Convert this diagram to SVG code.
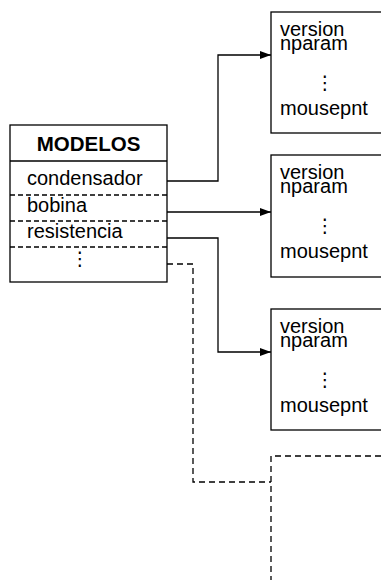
<svg xmlns="http://www.w3.org/2000/svg" width="381" height="584" viewBox="0 0 381 584">
<style>
text{font-family:"Liberation Sans",Arial,sans-serif;font-size:20px;fill:#000}
.b{font-weight:bold;font-size:20.5px}
.el{font-family:"DejaVu Sans",sans-serif;font-size:19px;text-anchor:middle}
.box{fill:#fff;stroke:#000;stroke-width:1.3}
.sep{stroke:#000;stroke-width:1.3;stroke-dasharray:5,3;fill:none}
.c{fill:none;stroke:#000;stroke-width:1.3}
.d{fill:none;stroke:#000;stroke-width:1.3;stroke-dasharray:6,4}
</style>
<defs>
<marker id="ah" markerWidth="11" markerHeight="8" refX="11" refY="4" orient="auto" markerUnits="userSpaceOnUse">
<path d="M0,0 L11,4 L0,8 Z" fill="#000"/>
</marker>
</defs>
<g id="connectors">
<path class="c" d="M167,181 H218 V55 H271" marker-end="url(#ah)"/>
<path class="c" d="M167,212 H271" marker-end="url(#ah)"/>
<path class="c" d="M167,238 H218 V352 H271" marker-end="url(#ah)"/>
<path class="d" d="M167,264 H193 V482 H271"/>
</g>
<g id="modelos">
<rect class="box" x="10" y="125" width="157" height="157"/>
<line class="c" x1="10" y1="161" x2="167" y2="161"/>
<line class="sep" x1="10" y1="195" x2="167" y2="195"/>
<line class="sep" x1="10" y1="221" x2="167" y2="221"/>
<line class="sep" x1="10" y1="247" x2="167" y2="247"/>
<text class="b" x="88.5" y="151" text-anchor="middle">MODELOS</text>
<text x="27" y="185">condensador</text>
<text x="27" y="212">bobina</text>
<text x="27" y="238">resistencia</text>
<text class="el" x="80" y="265">⋮</text>
</g>
<g id="struct1">
<rect class="box" x="271" y="12" width="120" height="121"/>
<text x="280" y="36">version</text>
<text x="280" y="50">nparam</text>
<text class="el" x="325" y="89">⋮</text>
<text x="280" y="115">mousepnt</text>
</g>
<g id="struct2">
<rect class="box" x="271" y="155" width="120" height="122"/>
<text x="280" y="179">version</text>
<text x="280" y="193">nparam</text>
<text class="el" x="325" y="232">⋮</text>
<text x="280" y="258">mousepnt</text>
</g>
<g id="struct3">
<rect class="box" x="271" y="309" width="120" height="121"/>
<text x="280" y="333">version</text>
<text x="280" y="347">nparam</text>
<text class="el" x="325" y="386">⋮</text>
<text x="280" y="412">mousepnt</text>
</g>
<g id="struct4">
<path class="d" d="M381,456 H271 V580"/>
</g>
</svg>
